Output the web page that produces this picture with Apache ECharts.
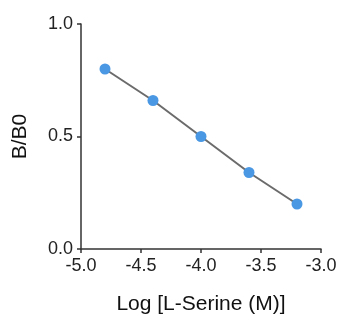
<!DOCTYPE html>
<html>
<head>
<meta charset="utf-8">
<script src="https://cdn.jsdelivr.net/npm/echarts@6/dist/echarts.min.js"></script>
<style>
  html, body { margin: 0; padding: 0; background: #fff; }
  #chart { width: 341px; height: 320px; }
</style>
</head>
<body>
<div id="chart"></div>
<script>
// log concentration vs B/B0
var logConc = [-4.8, -4.4, -4.0, -3.6, -3.2];
var ratio = [0.80, 0.66, 0.50, 0.34, 0.20];

var chart = echarts.init(document.getElementById("chart"));
var font = "Liberation Sans";
var axisCommon = {
  axisLine: { show: true, lineStyle: { color: "#333", width: 1.5 } },
  axisTick: { show: true, inside: false, length: 4, lineStyle: { color: "#333", width: 1.5 } },
  splitLine: { show: false },
  axisLabel: { color: "#222", fontSize: 18, fontFamily: font },
  nameTextStyle: { color: "#111", fontSize: 21, fontFamily: font }
};

chart.setOption({
  animation: false,
  grid: { left: 81, right: 20, top: 24, bottom: 68 },
  xAxis: Object.assign({}, axisCommon, {
    type: "value",
    min: -5,
    max: -3,
    interval: 0.5,
    name: "Log [L-Serine (M)]",
    nameLocation: "middle",
    nameGap: 45,
    axisLabel: Object.assign({}, axisCommon.axisLabel, {
      margin: 8,
      formatter: function (v) { return v.toFixed(1); }
    })
  }),
  yAxis: Object.assign({}, axisCommon, {
    type: "value",
    min: 0,
    max: 1,
    interval: 0.5,
    name: "B/B0",
    nameLocation: "middle",
    nameGap: 50,
    axisLabel: Object.assign({}, axisCommon.axisLabel, {
      margin: 8,
      formatter: function (v) { return v.toFixed(1); }
    })
  }),
  series: [{
    type: "line",
    data: logConc.map(function (x, i) { return [x, ratio[i]]; }),
    symbol: "circle",
    symbolSize: 11,
    lineStyle: { color: "#6b6b6b", width: 2 },
    itemStyle: { color: "#4a98e4" }
  }]
});
</script>
</body>
</html>
